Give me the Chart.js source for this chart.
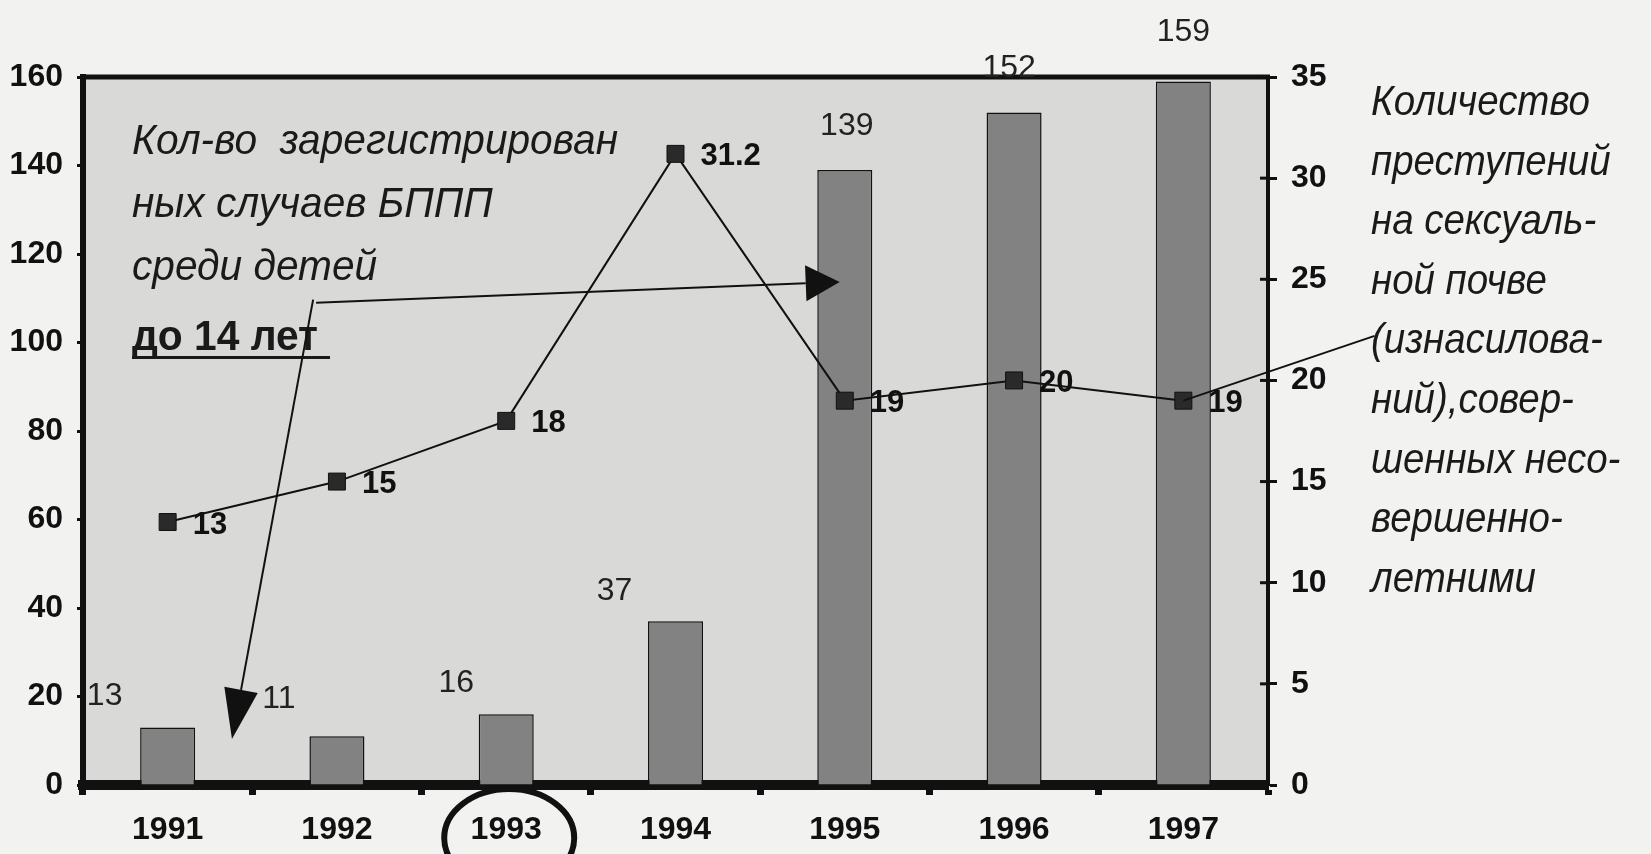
<!DOCTYPE html>
<html>
<head>
<meta charset="utf-8">
<script src="https://cdn.jsdelivr.net/npm/chart.js@4"></script>
<style>
  html, body { margin: 0; padding: 0; background: #f2f2f1; }
  canvas { display: block; }
</style>
</head>
<body>
<canvas id="chart" width="1651" height="854"></canvas>
<script>
// data
const years = ['1991', '1992', '1993', '1994', '1995', '1996', '1997'];
const stdCases = [13, 11, 16, 37, 139, 152, 159];      // left axis, bars
const crimeCounts = [13, 15, 18, 31.2, 19, 20, 19];  // right axis, line
const leftTicks = [0, 20, 40, 60, 80, 100, 120, 140, 160];
const rightTicks = [0, 5, 10, 15, 20, 25, 30, 35];

const leftNote = ['Кол-во  зарегистрирован', 'ных случаев БППП', 'среди детей'];
const leftNoteBold = 'до 14 лет';
const rightNote = ['Количество', 'преступений', 'на сексуаль-', 'ной почве',
    '(изнасилова-', 'ний),совер-', 'шенных несо-', 'вершенно-', 'летними'];

// label nudges (the original puts the first bar labels to the left)
const barLabelDx = [-63, -58, -50, -61, 2, -5, 0];
const barLabelDy = [-31, -37, -31, -30, -44, -44, -49];

const FONT = '"Liberation Sans Narrow", "Arial Narrow", "Liberation Sans", Arial, sans-serif';
const NOTE_FONT = '"Liberation Sans", Arial, sans-serif';
const INK = '#111';

function drawArrow(ctx, x0, y0, x1, y1, len, half) {
    const a = Math.atan2(y1 - y0, x1 - x0);
    const bx = x1 - len * Math.cos(a), by = y1 - len * Math.sin(a);
    ctx.beginPath();
    ctx.moveTo(x0, y0);
    ctx.lineTo(bx, by);
    ctx.stroke();
    ctx.beginPath();
    ctx.moveTo(x1, y1);
    ctx.lineTo(bx + half * Math.sin(a), by - half * Math.cos(a));
    ctx.lineTo(bx - half * Math.sin(a), by + half * Math.cos(a));
    ctx.closePath();
    ctx.fill();
}

// draws a block of lines squeezed so that the first line gets the given width
function drawBlock(ctx, lines, x, y0, step, refWidth) {
    const k = refWidth / ctx.measureText(lines[0]).width;
    lines.forEach((t, i) => {
        ctx.save();
        ctx.translate(x, y0 + i * step);
        ctx.scale(k, 1);
        ctx.fillText(t, 0, 0);
        ctx.restore();
    });
}

const backdrop = {
    id: 'backdrop',
    beforeDraw(chart) {
        const ctx = chart.ctx, a = chart.chartArea;
        ctx.save();
        ctx.fillStyle = '#f2f2f1';
        ctx.fillRect(0, 0, chart.width, chart.height);
        ctx.fillStyle = '#d9d9d8';
        ctx.fillRect(a.left, a.top, a.right - a.left, a.bottom - a.top);
        ctx.restore();
    }
};

const extras = {
    id: 'extras',
    afterDraw(chart) {
        const ctx = chart.ctx, a = chart.chartArea;
        const { x, y, y1 } = chart.scales;
        ctx.save();

        // top frame line
        ctx.strokeStyle = INK;
        ctx.lineWidth = 5;
        ctx.beginPath();
        ctx.moveTo(a.left - 3, a.top);
        ctx.lineTo(a.right + 2, a.top);
        ctx.stroke();

        // right axis ticks also cross into the plot
        ctx.lineWidth = 3;
        rightTicks.forEach(v => {
            const py = y1.getPixelForValue(v);
            ctx.beginPath();
            ctx.moveTo(a.right - 8, py);
            ctx.lineTo(a.right, py);
            ctx.stroke();
        });

        // bar value labels
        ctx.fillStyle = '#222';
        ctx.font = '32px ' + FONT;
        ctx.textAlign = 'center';
        ctx.textBaseline = 'middle';
        chart.getDatasetMeta(1).data.forEach((bar, i) => {
            ctx.fillText(String(stdCases[i]), bar.x + barLabelDx[i], bar.y + barLabelDy[i]);
        });

        // line value labels
        ctx.fillStyle = INK;
        ctx.font = 'bold 31px ' + FONT;
        ctx.textAlign = 'left';
        chart.getDatasetMeta(0).data.forEach((pt, i) => {
            ctx.fillText(String(crimeCounts[i]), pt.x + 25, pt.y + 3);
        });

        // left note
        ctx.textBaseline = 'alphabetic';
        ctx.fillStyle = '#1a1a1a';
        ctx.font = 'italic 42px ' + NOTE_FONT;
        drawBlock(ctx, leftNote, 132, 154, 63, 486);
        ctx.font = 'bold 43px ' + FONT;
        drawBlock(ctx, [leftNoteBold], 132, 350, 0, 186);
        ctx.fillRect(132, 356, 198, 3);

        // right note
        ctx.font = 'italic 42px ' + NOTE_FONT;
        drawBlock(ctx, rightNote, 1371, 115, 59.6, 219);

        // arrows from the left note
        ctx.strokeStyle = INK;
        ctx.fillStyle = INK;
        ctx.lineWidth = 2;
        const sx = x.getPixelForValue(0.877), sy = y.getPixelForValue(109);
        drawArrow(ctx, sx, sy, x.getPixelForValue(3.97), y.getPixelForValue(113.7), 34, 18);
        drawArrow(ctx, sx - 3, sy - 3, x.getPixelForValue(0.38), y.getPixelForValue(10.4), 50, 17);

        // leader from the 1997 point to the right note
        const last = chart.getDatasetMeta(0).data[6];
        ctx.beginPath();
        ctx.moveTo(last.x, last.y);
        ctx.lineTo(x.getPixelForValue(7.13), y1.getPixelForValue(22.2));
        ctx.stroke();

        // ring around 1993
        ctx.lineWidth = 6;
        ctx.beginPath();
        ctx.ellipse(x.getPixelForValue(2) + 3, a.bottom + 53, 65, 49, 0, 0, Math.PI * 2);
        ctx.stroke();

        ctx.restore();
    }
};

new Chart(document.getElementById('chart'), {
    data: {
        labels: years,
        datasets: [
            {
                type: 'line',
                label: 'Количество преступлений',
                data: crimeCounts,
                yAxisID: 'y1',
                order: 0,
                borderColor: INK,
                borderWidth: 2,
                pointStyle: 'rect',
                pointRadius: 12,
                pointBackgroundColor: '#2a2a2a',
                pointBorderColor: INK,
                pointBorderWidth: 1,
                tension: 0
            },
            {
                type: 'bar',
                label: 'Случаи БППП',
                data: stdCases,
                yAxisID: 'y',
                order: 1,
                backgroundColor: '#828282',
                borderColor: INK,
                borderWidth: 1.5,
                categoryPercentage: 1,
                barPercentage: 0.325
            }
        ]
    },
    options: {
        responsive: false,
        animation: false,
        layout: { padding: { top: 77, left: 0, right: 0, bottom: 0 } },
        plugins: {
            legend: { display: false },
            tooltip: { enabled: false }
        },
        scales: {
            x: {
                offset: true,
                grid: { offset: true, drawOnChartArea: false, tickLength: 10, tickWidth: 7, tickColor: INK },
                border: { display: true, width: 10, color: INK },
                ticks: { color: INK, padding: 16, font: { family: FONT, size: 32, weight: 'bold' } },
                afterFit(s) { s.height = 69; }
            },
            y: {
                position: 'left',
                min: 0,
                max: 160,
                afterBuildTicks(s) { s.ticks = leftTicks.map(v => ({ value: v })); },
                grid: { drawOnChartArea: false, tickLength: 6, tickWidth: 3, tickColor: INK },
                border: { display: true, width: 6, color: INK },
                ticks: { color: INK, padding: 14, font: { family: FONT, size: 32, weight: 'bold' } },
                afterFit(s) { s.width = 83; }
            },
            y1: {
                position: 'right',
                min: 0,
                max: 35,
                afterBuildTicks(s) { s.ticks = rightTicks.map(v => ({ value: v })); },
                grid: { drawOnChartArea: false, tickLength: 9, tickWidth: 3, tickColor: INK },
                border: { display: true, width: 4, color: INK },
                ticks: { color: INK, padding: 14, font: { family: FONT, size: 32, weight: 'bold' } },
                afterFit(s) { s.width = 383; }
            }
        }
    },
    plugins: [backdrop, extras]
});
</script>
</body>
</html>
